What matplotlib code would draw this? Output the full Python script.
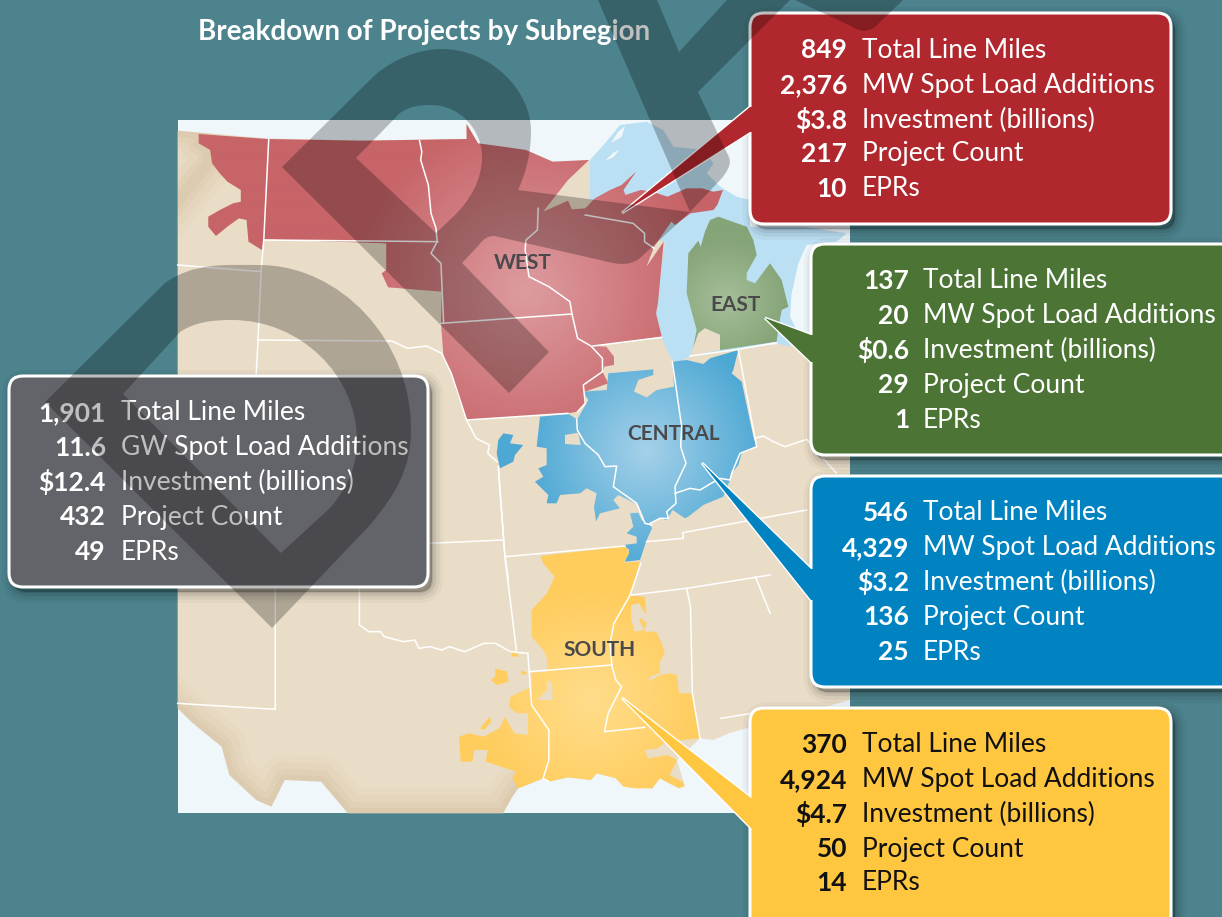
import numpy as np
import matplotlib
matplotlib.use('Agg')
import matplotlib.pyplot as plt
from matplotlib.colors import LinearSegmentedColormap
from matplotlib.patches import Polygon, PathPatch, FancyBboxPatch, Rectangle
from matplotlib.path import Path

plt.rcParams['font.family'] = ['Lato', 'DejaVu Sans']

W, H = 1222, 917

# values for each callout box
row_labels = ['Total Line Miles', 'MW Spot Load Additions', 'Investment (billions)', 'Project Count', 'EPRs']
grey_labels = ['Total Line Miles', 'GW Spot Load Additions', 'Investment (billions)', 'Project Count', 'EPRs']
west_values = ['849', '2,376', '$3.8', '217', '10']
east_values = ['137', '20', '$0.6', '29', '1']
central_values = ['546', '4,329', '$3.2', '136', '25']
south_values = ['370', '4,924', '$4.7', '50', '14']
total_values = ['1,901', '11.6', '$12.4', '432', '49']

title = 'Breakdown of Projects by Subregion'

def a(p):  # north part of map
    return [(170 + x / 2.613, 110 + y / 3) for x, y in p]
def b(p):  # south part of map
    return [(170 + x / 2.613, 450 + y / 3) for x, y in p]
def c(p):  # great lakes
    return [(590 + x / 3, y / 3) for x, y in p]
def d(p):  # central region
    return [(490 + x / 3, 340 + y / 3) for x, y in p]

land = (a([(20, 62), (250, 85), (500, 92), (775, 87), (775, 42), (805, 100), (870, 110), (930, 120), (1000, 155), (1095, 150)])
        + [(660, 235), (720, 232), (720, 300), (770, 345), (850, 335), (850, 700)]
        + b([(1520, 830), (1460, 850), (1420, 870), (1385, 865), (1325, 930), (1345, 1008), (1330, 1015), (1280, 985),
             (1260, 1015), (1185, 1010), (1165, 985), (1115, 970), (1100, 990), (1040, 982), (990, 995), (975, 985),
             (910, 1015), (895, 1040), (870, 1090), (465, 1090), (395, 995), (300, 990), (265, 1070), (225, 1050),
             (155, 975), (135, 890), (60, 820), (20, 775)]))
texas_coast = b([(975, 985), (910, 1015), (895, 1040), (870, 1090), (465, 1090), (395, 995), (300, 990), (265, 1070),
                 (225, 1050), (155, 975), (135, 890), (60, 820), (20, 775)])
nw_coast = a([(20, 62), (75, 72), (75, 100), (105, 120), (100, 160)]) + [(178, 200)]

lakes = c([(0, 480), (45, 430), (90, 375), (170, 365), (220, 390), (250, 440), (340, 450), (370, 490), (350, 520),
           (390, 560), (440, 590), (480, 600), (480, 680), (640, 680), (770, 700), (740, 725), (650, 735), (625, 790),
           (605, 880), (600, 950), (620, 990), (600, 1040), (555, 1030), (300, 1070), (270, 1085), (245, 1080),
           (215, 1015), (195, 930), (225, 730), (100, 640), (0, 600)])
isle1 = c([(62, 430), (85, 395), (105, 378), (95, 410)])
isle2 = c([(45, 482), (70, 458), (88, 450), (70, 472)])

west = a([(75, 72), (255, 87), (500, 92), (775, 87), (775, 42), (805, 100), (870, 110), (930, 120), (1000, 155), (1095, 150),
          (1040, 210), (975, 305), (1040, 272), (1050, 298), (1085, 295), (1110, 265), (1150, 240), (1180, 225), (1218, 185),
          (1185, 240), (1190, 255), (1230, 240), (1260, 245), (1300, 260), (1350, 235), (1390, 235), (1420, 245), (1445, 240),
          (1430, 285), (1420, 300), (1360, 310), (1320, 345), (1310, 335), (1265, 410), (1245, 470), (1290, 395), (1275, 580),
          (1270, 610), (1285, 680), (1105, 708), (1140, 710), (1160, 740), (1160, 765), (1135, 770), (1130, 785), (1145, 820),
          (1085, 845), (1085, 880), (1065, 905), (1040, 910), (775, 930), (750, 850), (735, 790), (715, 745), (708, 640),
          (710, 545), (570, 532), (553, 490), (565, 480), (565, 400), (245, 388), (240, 420), (205, 395), (200, 330), (180, 325),
          (150, 350), (120, 378), (100, 350), (100, 320), (130, 300), (165, 280), (185, 275), (185, 240), (150, 215), (130, 190),
          (110, 160), (105, 120), (75, 100)])
east = c([(360, 660), (385, 650), (470, 680), (490, 720), (500, 765), (470, 820), (470, 840), (495, 850), (540, 790), (575, 840),
          (595, 920), (575, 930), (565, 985), (560, 1025), (390, 1050), (390, 1005), (345, 985), (325, 1000), (305, 1065),
          (320, 990), (290, 880), (295, 760), (325, 722), (332, 740), (345, 695)])
east_gap = c([(300, 1068), (325, 1000), (345, 985), (390, 1005), (390, 1050)])
central = d([(150, 230), (235, 222), (262, 238), (295, 180), (280, 155), (350, 150), (355, 100), (490, 88), (490, 105), (445, 120),
             (432, 155), (470, 172), (500, 150), (552, 140), (547, 65), (590, 60), (640, 72), (660, 55), (745, 30), (730, 90),
             (725, 100), (755, 125), (790, 290), (800, 320), (755, 340), (745, 375), (725, 400), (720, 420), (700, 470), (640, 495),
             (595, 530), (585, 535), (548, 510), (530, 540), (510, 535), (480, 550), (486, 565), (470, 600), (450, 660), (405, 665),
             (418, 630), (400, 615), (440, 610), (440, 590), (410, 580), (430, 560), (420, 520), (445, 518), (455, 540), (462, 545),
             (445, 495), (385, 465), (370, 480), (390, 505), (330, 520), (318, 545), (312, 500), (320, 460), (290, 445), (270, 460),
             (210, 465), (200, 490), (170, 490), (175, 465), (135, 425), (160, 410), (145, 385), (170, 375), (170, 325), (140, 320)])
central_isle = d([(25, 300), (40, 280), (70, 285), (60, 310), (100, 315), (75, 345), (70, 365), (30, 385), (20, 340)])
central_gap = d([(225, 285), (265, 278), (272, 315), (225, 312)])
south = b([(968, 318), (1190, 288), (1200, 310), (1185, 338), (1228, 335), (1210, 410), (1200, 437), (1240, 440), (1245, 490),
           (1220, 490), (1245, 520), (1240, 545), (1270, 545), (1285, 580), (1293, 610), (1280, 635), (1280, 670), (1255, 680),
           (1250, 695), (1280, 675), (1305, 670), (1325, 675), (1330, 730), (1365, 730), (1385, 865), (1340, 870), (1290, 880),
           (1275, 895), (1240, 900), (1250, 925), (1300, 915), (1325, 930), (1305, 975), (1340, 995), (1345, 1008), (1330, 1015),
           (1280, 985), (1260, 1015), (1215, 1015), (1185, 1010), (1165, 985), (1115, 970), (1100, 990), (1040, 982), (990, 995),
           (975, 985), (910, 1015), (895, 985), (905, 965), (825, 935), (830, 900), (795, 900), (790, 935), (760, 935), (755, 860),
           (780, 850), (820, 860), (860, 835), (875, 800), (900, 850), (935, 855), (935, 790), (905, 790), (885, 770), (890, 740),
           (945, 710), (945, 668), (985, 665), (985, 625), (975, 600), (945, 560), (945, 480), (985, 430), (1005, 380), (975, 340)])
south_bits = [b([(850, 655), (880, 665), (885, 695), (855, 705), (838, 690), (850, 680)]),
              b([(890, 605), (910, 612), (910, 620), (895, 620)]),
              b([(918, 660), (935, 670), (920, 675)]),
              b([(810, 835), (835, 800), (840, 815), (820, 840)])]
south_gaps = [b([(960, 750), (985, 720), (985, 690), (998, 700), (1000, 750)]),
              b([(1205, 465), (1225, 460), (1245, 495), (1225, 510), (1240, 540), (1215, 545), (1205, 510)])]

state_lines = [
    a([(258, 87), (245, 390), (238, 485), (230, 690), (225, 795)]),
    a([(652, 92), (658, 125), (655, 150), (675, 225), (682, 310), (695, 355), (698, 395), (682, 430), (708, 460), (715, 640)]),
    a([(962, 295), (960, 360), (930, 390), (928, 420), (938, 500), (990, 530), (1045, 575), (1050, 610), (1065, 685), (1100, 708),
       (1130, 745), (1130, 785), (1080, 825), (1085, 880), (1065, 905)]),
    a([(708, 640), (1050, 612)]),
    a([(245, 390), (700, 395)]),
    a([(1085, 315), (1210, 340), (1240, 370), (1240, 395), (1265, 415)]),
    a([(1105, 708), (1285, 682)]),
    a([(775, 930), (1040, 910)]),
    a([(230, 690), (580, 693), (620, 715), (670, 708), (710, 730), (735, 790), (775, 930), (800, 985), (835, 1005), (830, 1030), (855, 1055)]),
    a([(20, 465), (238, 485)]),
    c([(300, 1068), (445, 1048), (560, 1028)]),
    d([(260, 238), (262, 270), (285, 310), (325, 345), (345, 380), (380, 378), (370, 440), (440, 490), (465, 550), (485, 555)]),
    d([(547, 65), (575, 260), (572, 320), (588, 370), (555, 440), (558, 490), (530, 515), (535, 535), (510, 535), (480, 550)]),
    d([(555, 460), (600, 445), (630, 450), (660, 432), (690, 415), (720, 420), (725, 400), (750, 340), (800, 320), (795, 295), (820, 288),
       (850, 305), (885, 320), (950, 298), (1000, 355), (1040, 400)]),
    d([(745, 30), (795, 295)]),
    d([(470, 605), (580, 595), (578, 578), (950, 510)]),
    d([(45, 650), (405, 618)]),
    d([(25, 385), (45, 650), (55, 720)]),
    b([(675, 280), (870, 270)]),
    b([(858, 50), (875, 320), (905, 600)]),
    b([(940, 665), (1155, 645)]),
    b([(935, 610), (945, 765), (990, 840), (990, 930), (975, 985), (990, 995)]),
    b([(495, 415), (495, 525), (520, 545), (550, 545), (560, 560), (610, 575), (640, 570), (650, 595), (680, 590), (710, 600), (730, 590),
       (770, 605), (820, 580), (850, 580), (890, 605), (935, 610)]),
    b([(275, 415), (275, 778), (20, 760)]),
    b([(1230, 340), (1210, 410), (1200, 440), (1160, 520), (1150, 580), (1155, 650), (1165, 690), (1180, 710), (1145, 790), (1135, 845), (1240, 832)]),
    b([(1205, 435), (1350, 415), (1568, 375)]),
    b([(1350, 415), (1360, 470), (1365, 730), (1385, 865)]),
    b([(1530, 380), (1568, 490)]),
    b([(1440, 805), (1520, 790)]),
]

fig = plt.figure(figsize=(W / 100, H / 100), dpi=100)
ax = fig.add_axes([0, 0, 1, 1])
ax.set_xlim(0, W)
ax.set_ylim(H, 0)
ax.axis('off')
fig.patch.set_facecolor('#4c838d')

def fill_radial(pts, inner, outer, cx, cy, r, zorder):
    patch = Polygon(pts, closed=True, fc='none', ec='none', transform=ax.transData)
    ax.add_patch(patch)
    yy, xx = np.mgrid[0:H:2, 0:W:2]
    dist = np.clip(np.hypot(xx - cx, yy - cy) / r, 0, 1)
    cmap = LinearSegmentedColormap.from_list('g', [inner, outer])
    im = ax.imshow(dist, cmap=cmap, extent=(0, W, H, 0), aspect='auto', zorder=zorder, vmin=0, vmax=1)
    im.set_clip_path(patch)

def draw_box(x0, y0, x1, y1, color, wedge):
    # soft shadow first
    for lw, al in [(16, 0.03), (11, 0.05), (6, 0.07), (2, 0.1)]:
        ax.add_patch(FancyBboxPatch((x0 + 4, y0 + 5), x1 - x0, y1 - y0, boxstyle='round,pad=0,rounding_size=14',
                                    fc=(0, 0, 0, al), ec=(0, 0, 0, al), lw=lw, zorder=6))
    ax.add_patch(Polygon(wedge, closed=True, fc=color, ec='white', lw=2, zorder=7, joinstyle='miter'))
    ax.add_patch(FancyBboxPatch((x0, y0), x1 - x0, y1 - y0, boxstyle='round,pad=0,rounding_size=14',
                                fc=color, ec='white', lw=2.2, zorder=7))
    tip, p1, p2 = wedge
    ax.add_patch(Polygon([tip, p1, (p1[0] + 8, p1[1]), (p2[0] + 8, p2[1]), p2], closed=True, fc=color, ec='none', zorder=7))

def box_text(xnum, xlab, ys, vals, labels, color):
    for y, v, l in zip(ys, vals, labels):
        ax.text(xnum, y, v, ha='right', va='center', fontsize=19, fontweight='bold', color=color, zorder=8)
        ax.text(xlab, y, l, ha='left', va='center', fontsize=19, color=color, zorder=8)

# map base
ax.add_patch(Rectangle((178, 120), 672, 693, fc='#f0f7fb', ec='none', zorder=1))
land_patch = Polygon(land, closed=True, fc='#eaddc8', ec='none', zorder=1)
ax.add_patch(land_patch)
for lw, al in [(36, 0.05), (26, 0.06), (16, 0.07), (8, 0.08)]:
    for coast in (texas_coast, nw_coast):
        ln, = ax.plot(*zip(*coast), color='#b8985f', alpha=al, lw=lw, zorder=1, solid_joinstyle='round')
        ln.set_clip_path(land_patch)
ax.add_patch(Polygon(lakes, closed=True, fc='#bbe0f3', ec='none', zorder=2))
for isle in (isle1, isle2):
    ax.add_patch(Polygon(isle, closed=True, fc='#f0f7fb', ec='none', zorder=2))

# regions
fill_radial(west, '#dd9ca0', '#c76468', 525, 290, 175, 3)
fill_radial(east, '#a6bf9a', '#85a477', 725, 300, 62, 3)
fill_radial(central, '#a5d1e9', '#4da8d4', 645, 450, 120, 3)
fill_radial(central_isle, '#4da8d4', '#4da8d4', 510, 450, 20, 3)
fill_radial(south, '#ffdd8c', '#ffcd5e', 590, 700, 110, 3)
for bit in south_bits:
    ax.add_patch(Polygon(bit, closed=True, fc='#ffcd5e', ec='none', zorder=3))
for gap in south_gaps + [central_gap, east_gap]:
    ax.add_patch(Polygon(gap, closed=True, fc='#eaddc8', ec='none', zorder=3))

for seg in state_lines:
    ax.plot(*zip(*seg), color='white', lw=1.1, zorder=4, solid_joinstyle='round')

ax.add_patch(Rectangle((178, 120), 672, 693, fc='none', ec='none', zorder=4))

for txt, x, y in [('WEST', 523, 263), ('EAST', 736, 305), ('CENTRAL', 674, 434), ('SOUTH', 600, 650)]:
    ax.text(x, y, txt, ha='center', va='center', fontsize=15, fontweight='bold', color='#4a4a4d', zorder=5)

ax.text(198, 32, title, ha='left', va='center', fontsize=20, fontweight='bold', color='white', zorder=5)

# callouts
draw_box(750, 13, 1171, 224, '#b0282d', [(622, 213), (750, 107), (750, 132)])
box_text(847, 862, [50, 85, 120, 154, 189], west_values, row_labels, 'white')
draw_box(811, 244, 1240, 455, '#4c7535', [(765, 318), (811, 335), (811, 362)])
box_text(909, 923, [281, 316, 350, 385, 420], east_values, row_labels, 'white')
draw_box(811, 476, 1240, 687, '#0083c0', [(702, 463), (811, 569), (811, 600)])
box_text(909, 923, [513, 548, 582, 617, 652], central_values, row_labels, 'white')
draw_box(750, 708, 1171, 940, '#ffc640', [(622, 698), (751, 798), (751, 828)])
box_text(847, 862, [745, 780, 814, 849, 883], south_values, row_labels, '#111111')
draw_box(9, 376, 428, 587, '#636469', [(300, 500), (300, 501), (300, 502)])
box_text(106, 121, [413, 448, 482, 517, 552], total_values, grey_labels, 'white')

# big translucent draft letters sit on top of everything
M, L, C, Z = Path.MOVETO, Path.LINETO, Path.CURVE4, Path.CLOSEPOLY
def letter(parts):
    verts, codes = [], []
    for start, segs in parts:
        verts.append(start)
        codes.append(M)
        for s in segs:
            if len(s) == 2:
                verts.append(s)
                codes.append(L)
            else:
                verts += [(s[0], s[1]), (s[2], s[3]), (s[4], s[5])]
                codes += [C, C, C]
        verts.append(start)
        codes.append(Z)
    ax.add_patch(PathPatch(Path(verts, codes), fc=(0, 0, 0, 0.25), ec='none', zorder=10))

letter([((272, 628), [(45, 402), (165, 283), (195, 262, 225, 265, 259, 265), (340, 265, 411, 340, 411, 429),
                      (411, 470, 395, 495, 370, 525)]),
        ((281, 553), [(330, 508), (345, 490, 357, 470, 357, 441), (357, 375, 300, 320, 232, 320),
                      (212, 320, 195, 322, 180, 332), (123, 394)])])
letter([((282, 167), [(375, 75), (395, 58, 420, 49, 442, 49), (490, 49, 531, 90, 531, 131), (531, 155, 525, 175, 518, 190),
                      (690, 212), (640, 258), (628, 268, 612, 263, 600, 260), (499, 237), (490, 234, 484, 238, 478, 246),
                      (462, 263), (549, 352), (509, 393)]),
        ((436, 233), [(455, 215), (470, 200, 482, 180, 482, 157), (482, 130, 460, 105, 431, 105),
                      (420, 105, 410, 106, 400, 113), (356, 158)])])
letter([((598, 0), [(690, 212), (722, 178), (732, 165, 731, 160, 727, 153), (698, 92), (790, 0), (727, 0), (679, 52), (657, 0)])])
letter([((795, 0), [(853, 27), (860, 32, 868, 32, 875, 27), (903, 0)])])

ax.set_xlim(0, W)
ax.set_ylim(H, 0)
fig.savefig('out.png', dpi=100, facecolor=fig.get_facecolor())
